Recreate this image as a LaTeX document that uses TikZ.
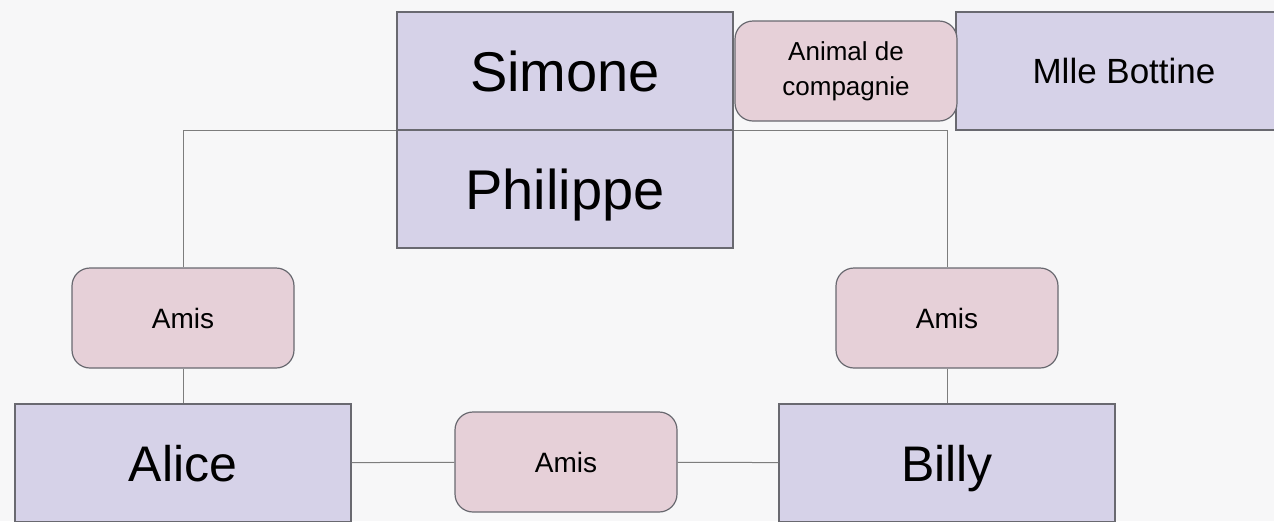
\documentclass[tikz,border=0pt]{standalone}
\usepackage{fontspec}
\setmainfont{Liberation Sans}
\usepackage{tikz}
\usetikzlibrary{positioning}
\definecolor{person}{RGB}{214,210,232}
\definecolor{link}{RGB}{230,208,216}
\definecolor{edge}{RGB}{105,105,112}
\definecolor{wire}{RGB}{125,125,125}
\definecolor{paper}{RGB}{247,247,248}

\begin{document}
\begin{tikzpicture}[x=0.5pt, y=-0.5pt,
    personbox/.style={draw=edge, fill=person, line width=0.6pt, inner sep=0pt,
        minimum width=168pt, minimum height=59pt, text depth=0pt},
    linkbox/.style={draw=edge, fill=link, line width=0.6pt, rounded corners=9pt, inner sep=0pt,
        minimum width=111pt, minimum height=50pt, font=\fontsize{14}{17}\selectfont, align=center},
    wire/.style={draw=wire, line width=0.5pt}]
                    \fill[paper] (0,0) rectangle (1274,521);
                    \useasboundingbox (0,0) rectangle (1274,521);
                    \clip (0,0) rectangle (1274,521);
                    % persons
                    \node[personbox, text height=20pt, font=\fontsize{28}{32}\selectfont] (simone) at (565,71) {Simone};
                    \node[personbox, text height=20pt, font=\fontsize{28}{32}\selectfont] (philippe) at (565,189) {Philippe};
                    \node[personbox, text height=12.6pt, font=\fontsize{17.5}{20}\selectfont] (bottine) at (1124,71) {Mlle Bottine};
                    \node[personbox, text height=18pt, font=\fontsize{25}{30}\selectfont] (alice) at (183,463) {Alice};
                    \node[personbox, text height=18pt, font=\fontsize{25}{30}\selectfont] (billy) at (947,463) {Billy};
                    % links
                    \node[linkbox, font=\fontsize{13}{17.5}\selectfont] (animal) at (846,71) {Animal de\\compagnie};
                    \node[linkbox] (amisl) at (183,318) {Amis};
                    \node[linkbox] (amisr) at (947,318) {Amis};
                    \node[linkbox] (amism) at (566,462) {Amis};
                    % connectors
                    \draw[wire] (amisl.north) -- (amisl.north |- simone.south) -- (amisr.north |- simone.south) -- (amisr.north);
                    \draw[wire] (amisl) -- (alice) (amisr) -- (billy);
                    \draw[wire] (alice) -- (amism) -- (billy);
                    \draw[edge, line width=0.6pt] (simone.south west) -- (simone.south east);
                \end{tikzpicture}
\end{document}
